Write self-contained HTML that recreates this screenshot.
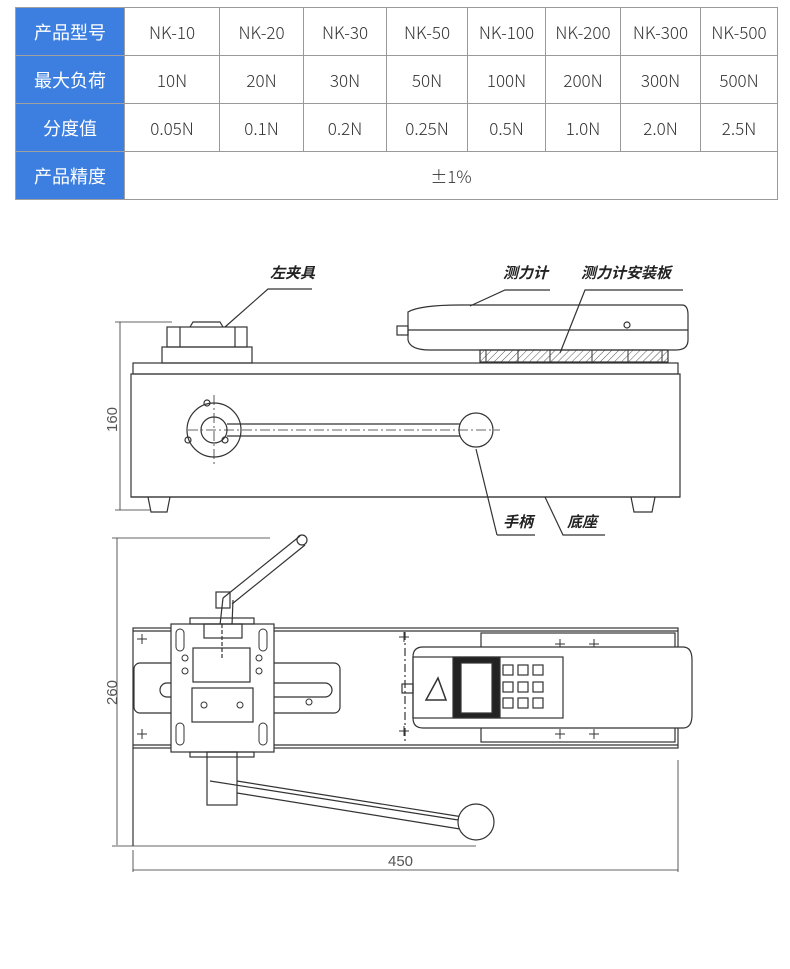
<!DOCTYPE html>
<html><head><meta charset="utf-8"><style>
body{margin:0;width:790px;height:969px;background:#fff;overflow:hidden;font-family:"Liberation Sans","Noto Sans CJK SC",sans-serif}
table{position:absolute;left:15px;top:7px;border-collapse:collapse;width:763px}
td{border:1px solid #9a9a9a;height:47px;text-align:center;font-size:17px;color:#333;padding:0;font-family:"Noto Sans CJK SC","Liberation Sans",sans-serif;font-weight:300}
td.h{background:#3d7fe0;color:#fff;border-color:#a0a0a0;width:108px;font-size:18px;font-weight:400}
svg{position:absolute;left:0;top:0}
</style></head><body>
<table>
<tr><td class="h">产品型号</td><td style="width:94px">NK-10</td><td style="width:83px">NK-20</td><td style="width:82px">NK-30</td><td style="width:80px">NK-50</td><td style="width:77px">NK-100</td><td style="width:74px">NK-200</td><td style="width:79px">NK-300</td><td>NK-500</td></tr>
<tr><td class="h">最大负荷</td><td>10N</td><td>20N</td><td>30N</td><td>50N</td><td>100N</td><td>200N</td><td>300N</td><td>500N</td></tr>
<tr><td class="h">分度值</td><td>0.05N</td><td>0.1N</td><td>0.2N</td><td>0.25N</td><td>0.5N</td><td>1.0N</td><td>2.0N</td><td>2.5N</td></tr>
<tr><td class="h">产品精度</td><td colspan="8">±1%</td></tr>
</table>
<svg width="790" height="969" viewBox="0 0 790 969" fill="none" stroke="#333" stroke-width="1.2">
<defs><pattern id="hat" width="5" height="5" patternUnits="userSpaceOnUse" patternTransform="rotate(45)"><line x1="0" y1="0" x2="0" y2="5" stroke="#555" stroke-width="1"/></pattern></defs>
<g font-family="Liberation Sans,Noto Sans CJK SC,sans-serif" font-size="15" fill="#222" stroke="none" font-style="italic" font-weight="bold">
<text x="270" y="278">左夹具</text><text x="503" y="278">测力计</text><text x="581" y="278">测力计安装板</text>
<text x="503" y="527">手柄</text><text x="567" y="527">底座</text>
</g>
<g font-family="Liberation Sans,sans-serif" font-size="15" fill="#555" stroke="none">
<text transform="translate(117,432) rotate(-90)">160</text>
<text transform="translate(117,705) rotate(-90)">260</text>
<text x="388" y="866">450</text>
</g>
<!-- leaders -->
<path d="M312 289H268L225 327M550 290H505L470 306M683 290H585L560 353M497 535L476 449M535 535H497M605 535H563L545 497"/>
<!-- side view -->
<path d="M120 322V510M115 322H172M115 510H150" stroke-width="0.8"/>
<rect x="133" y="363" width="545" height="11"/>
<rect x="131" y="374" width="549" height="123"/>
<path d="M131 497H680"/>
<path d="M148 497L151 512H167L170 497M631 497L634 512H652L655 497"/>
<rect x="162" y="347" width="90" height="16"/><rect x="167" y="327" width="80" height="20"/>
<path d="M180 327V347M235 327V347M190 327L193 322H220L223 327"/>
<path d="M408 312Q420 305 460 305H682Q688 305 688 315V340Q688 350 676 350H430Q410 350 408 340Z"/>
<path d="M408 330H688"/><rect x="397" y="326" width="11" height="9"/><circle cx="627" cy="325" r="3"/>
<rect x="480" y="350" width="188" height="12" fill="url(#hat)"/>
<g stroke-width="1"><path d="M486 350v13M518 350v13M550 350v13M592 350v13M628 350v13M662 350v13"/></g>
<circle cx="214" cy="430" r="27"/><circle cx="214" cy="430" r="13"/>
<circle cx="207" cy="403" r="3"/><circle cx="188" cy="440" r="3"/><circle cx="225" cy="440" r="3"/>
<path d="M227 424H460M227 436H460"/><circle cx="476" cy="430" r="17"/>
<path d="M188 430H500M214 395V464" stroke-dasharray="10 3 2 3" stroke-width="0.8"/>
<!-- top view dims -->
<path d="M117 538V845M112 538H270M112 846H476M133 870H678M133 850V872M678 760V872" stroke-width="0.8"/>
<!-- top plate -->
<rect x="133" y="628" width="545" height="120"/><path d="M133 631H678M133 745H678"/>
<path d="M133 748V846"/>
<rect x="134" y="663" width="206" height="50" rx="6"/>
<rect x="160" y="683" width="172" height="14" rx="7"/>
<rect x="481" y="633" width="194" height="109"/>
<path d="M405 632V743" stroke-dasharray="8 3 2 3"/>
<!-- handle upper -->
<path d="M223 598L220 625M233 600L232 625M223 598L300 536M232 604L305 545"/><circle cx="302" cy="540" r="5"/>
<rect x="216" y="592" width="14" height="16"/>
<!-- slider -->
<rect x="171" y="624" width="103" height="128" fill="#fff"/>
<rect x="190" y="618" width="64" height="6"/><rect x="190" y="752" width="64" height="5"/>
<rect x="204" y="624" width="38" height="14"/><path d="M222 624V660" stroke-dasharray="4 2"/>
<rect x="193" y="648" width="57" height="34"/><rect x="192" y="688" width="61" height="34"/>
<g stroke-width="1">
<rect x="176" y="629" width="8" height="22" rx="4"/><rect x="259" y="629" width="8" height="22" rx="4"/>
<rect x="176" y="723" width="8" height="22" rx="4"/><rect x="259" y="723" width="8" height="22" rx="4"/>
<circle cx="185" cy="658" r="3"/><circle cx="185" cy="671" r="3"/><circle cx="259" cy="658" r="3"/><circle cx="259" cy="671" r="3"/>
<circle cx="204" cy="705" r="3"/><circle cx="240" cy="705" r="3"/><circle cx="309" cy="702" r="3"/>
<path d="M142 634v10M137 639h10M142 729v10M137 734h10M404 632v10M399 637h10M404 726v10M399 731h10M560 639v10M555 644h10M594 639v10M589 644h10M560 729v10M555 734h10M594 729v10M589 734h10"/>
</g>
<rect x="207" y="752" width="30" height="53"/>
<path d="M237 781L463 817M237 793L460 829M210 781L490 825" />
<circle cx="476" cy="822" r="18" fill="#fff"/>
<!-- meter -->
<path d="M423 647H683Q692 647 692 660V715Q692 728 683 728H423Q413 728 413 718V657Q413 647 423 647Z" fill="#fff"/>
<rect x="413" y="657" width="150" height="61"/>
<rect x="402" y="684" width="11" height="9"/>
<path d="M426 700L438 678L446 700Z" stroke-width="1.5"/>
<rect x="453" y="657" width="47" height="61" fill="#222"/><rect x="461" y="663" width="31" height="50" fill="#fff"/>
<g stroke-width="1.2">
<rect x="503" y="665" width="10" height="10"/><rect x="518" y="665" width="10" height="10"/><rect x="533" y="665" width="10" height="10"/>
<rect x="503" y="682" width="10" height="10"/><rect x="518" y="682" width="10" height="10"/><rect x="533" y="682" width="10" height="10"/>
<rect x="503" y="698" width="10" height="10"/><rect x="518" y="698" width="10" height="10"/><rect x="533" y="698" width="10" height="10"/>
</g>
</svg>
</body></html>
